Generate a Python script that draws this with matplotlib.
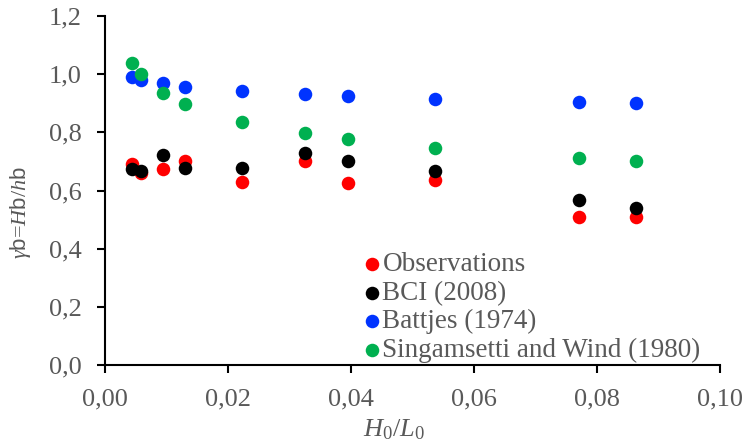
import numpy as np
import matplotlib
matplotlib.use("Agg")
import matplotlib.pyplot as plt
from matplotlib.ticker import FuncFormatter

# H0/L0 values shared by all series
steepness = [0.0043, 0.0058, 0.0094, 0.0130, 0.0222, 0.0325, 0.0395, 0.0536, 0.0771, 0.0863]

observations = [0.692, 0.661, 0.673, 0.703, 0.628, 0.703, 0.626, 0.635, 0.510, 0.510]
bci_2008 = [0.674, 0.668, 0.721, 0.676, 0.676, 0.729, 0.701, 0.668, 0.567, 0.539]
battjes_1974 = [0.991, 0.980, 0.968, 0.957, 0.942, 0.931, 0.924, 0.916, 0.904, 0.900]
singamsetti_1980 = [1.037, 1.000, 0.936, 0.898, 0.836, 0.797, 0.777, 0.746, 0.711, 0.703]

series_labels = ["Observations", "BCI (2008)", "Battjes (1974)", "Singamsetti and Wind (1980)"]
series_colors = ["#ff0000", "#000000", "#0033ff", "#00b050"]

plt.rcParams['font.family'] = ['Liberation Serif', 'DejaVu Serif']
plt.rcParams['mathtext.fontset'] = 'custom'
plt.rcParams['mathtext.rm'] = 'Liberation Serif'
plt.rcParams['mathtext.it'] = 'Liberation Serif:italic'
plt.rcParams['mathtext.sf'] = 'Liberation Sans'

grey = "#595959"

fig = plt.figure(figsize=(7.44, 4.46), dpi=100)
ax = fig.add_axes([0.1417, 0.1816, 0.8263, 0.7825])

all_series = [observations, bci_2008, battjes_1974, singamsetti_1980]
for vals, lab, col in zip(all_series, series_labels, series_colors):
    ax.scatter(steepness, vals, s=95, color=col, label=lab, linewidths=0, zorder=3)

ax.set_xlim(0, 0.10)
ax.set_ylim(0, 1.2)
ax.set_xticks(np.arange(0, 0.101, 0.02))
ax.set_yticks(np.arange(0, 1.21, 0.2))
ax.xaxis.set_major_formatter(FuncFormatter(lambda v, p: f"{v:.2f}".replace(".", ",")))
ax.yaxis.set_major_formatter(FuncFormatter(lambda v, p: f"{v:.1f}".replace(".", ",")))

for side in ["top", "right"]:
    ax.spines[side].set_visible(False)
for side in ["left", "bottom"]:
    ax.spines[side].set_linewidth(1.5)
    ax.spines[side].set_color("black")
ax.tick_params(direction="out", length=6, width=1.5, colors="black",
               labelcolor=grey, labelsize=19)
ax.tick_params(axis="x", pad=11)
ax.tick_params(axis="y", pad=11)

ax.set_xlabel(r"$H_0/L_0$", fontsize=19, color=grey)
ax.xaxis.set_label_coords(0.47, -0.15)
ax.set_ylabel(r"$\gamma\mathsf{b}$=$H\mathsf{b}$/$h\mathsf{b}$", fontsize=16, color=grey)
ax.yaxis.set_label_coords(-0.118, 0.4355)

leg = ax.legend(loc="upper left", bbox_to_anchor=(0.422, 0.323), frameon=False,
                fontsize=19.5, handletextpad=0.15, labelspacing=0.13, borderaxespad=0,
                borderpad=0, handlelength=0.5, markerscale=1.0)
for t in leg.get_texts():
    t.set_color(grey)

fig.savefig("out.png", dpi=100)
